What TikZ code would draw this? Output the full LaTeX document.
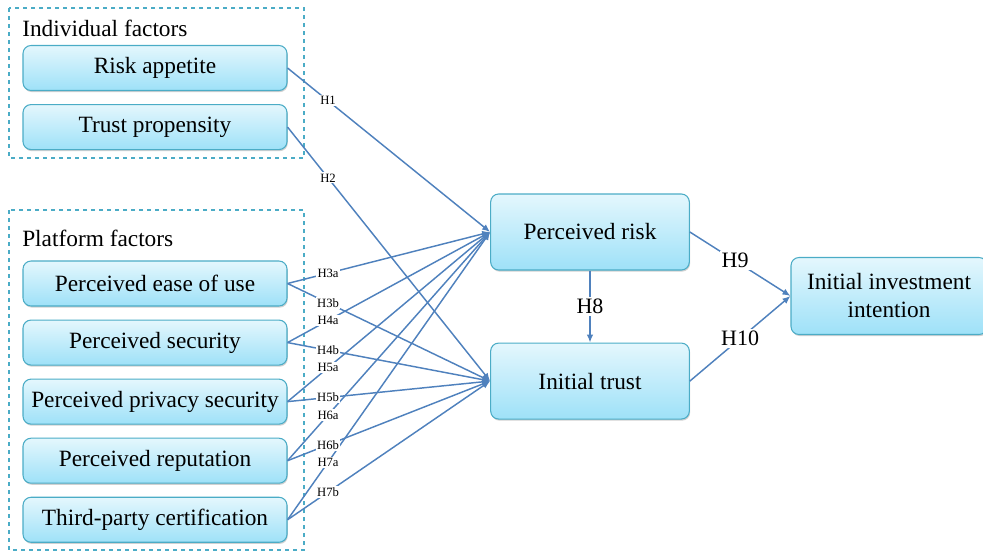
\documentclass[tikz,border=0pt]{standalone}
\usepackage{fontspec}
\setmainfont{Liberation Serif}
\usepackage{tikz}
\usetikzlibrary{arrows.meta, positioning, shadows}
\definecolor{boxline}{RGB}{75,172,198}
\definecolor{boxtop}{RGB}{228,247,253}
\definecolor{boxbot}{RGB}{158,225,248}
\definecolor{linkblue}{RGB}{79,129,189}

\begin{document}
\begin{tikzpicture}[
    x=0.75pt, y=-0.75pt,
    node distance=9.75pt,
    factor/.style={rectangle, rounded corners=6pt, draw=boxline, line width=0.8pt,
                   top color=boxtop, bottom color=boxbot,
                   minimum width=198pt, minimum height=33.75pt,
                   font=\fontsize{17.5}{21}\selectfont,
                   drop shadow={shadow xshift=0.6pt, shadow yshift=-1.2pt, opacity=0.3, fill=black!60}},
    construct/.style={factor, minimum width=149pt, minimum height=57pt, align=center},
    grp/.style={draw=boxline, dashed, line width=1pt},
    grptitle/.style={anchor=west, inner sep=0pt, font=\fontsize{17.5}{21}\selectfont},
    arr/.style={-{Latex[length=6pt, width=5pt]}, draw=linkblue, line width=1.1pt},
    hsmall/.style={pos=0.2, fill=white, inner sep=1pt, font=\fontsize{9.5}{10}\selectfont},
    hbig/.style={fill=white, inner sep=1.5pt, font=\fontsize{16.5}{18}\selectfont},
]
    \useasboundingbox (0,0) rectangle (983,554);

    % factor groups
    \draw[grp] (9,8) rectangle (304,158);
    \draw[grp] (9,210) rectangle (304,550);
    \node[grptitle] (indiv) at (22,28) {Individual factors};
    \node[grptitle] (platf) at (22,238) {Platform factors};

    \node[factor] (riskapp) at (155,68) {Risk appetite};
    \node[factor, below=of riskapp] (trustprop) {Trust propensity};

    \node[factor] (ease) at (155,283.5) {Perceived ease of use};
    \node[factor, below=of ease] (secu) {Perceived security};
    \node[factor, below=of secu] (priv) {Perceived privacy security};
    \node[factor, below=of priv] (repu) {Perceived reputation};
    \node[factor, below=of repu] (cert) {Third-party certification};

    % mediators and outcome
    \node[construct] (prisk) at (590,232) {Perceived risk};
    \node[construct, below=54pt of prisk] (itrust) {Initial trust};
    \node[construct, minimum width=147pt, minimum height=57.75pt] (intent) at (889,296)
        {Initial investment\\intention};

    \draw[arr] (riskapp.east) -- (prisk.west);
    \draw[arr] (trustprop.east) -- (itrust.west);
    \foreach \src in {ease, secu, priv, repu, cert} {
        \draw[arr] (\src.east) -- (prisk.west);
        \draw[arr] (\src.east) -- (itrust.west);
    }

    % hypothesis labels on top of the lines
    \path (riskapp.east) -- node[hsmall] {H1} (prisk.west);
    \path (trustprop.east) -- node[hsmall] {H2} (itrust.west);
    \foreach \src/\la/\lb in {ease/H3a/H3b, secu/H4a/H4b, priv/H5a/H5b,
                              repu/H6a/H6b, cert/H7a/H7b} {
        \path (\src.east) -- node[hsmall] {\la} (prisk.west);
        \path (\src.east) -- node[hsmall] {\lb} (itrust.west);
    }

    \draw[arr] (prisk) -- node[hbig] {H8} (itrust);
    \draw[arr] (prisk.east) -- node[hbig, pos=0.45] {H9} (intent.west);
    \draw[arr] (itrust.east) -- node[hbig] {H10} (intent.west);
\end{tikzpicture}
\end{document}
